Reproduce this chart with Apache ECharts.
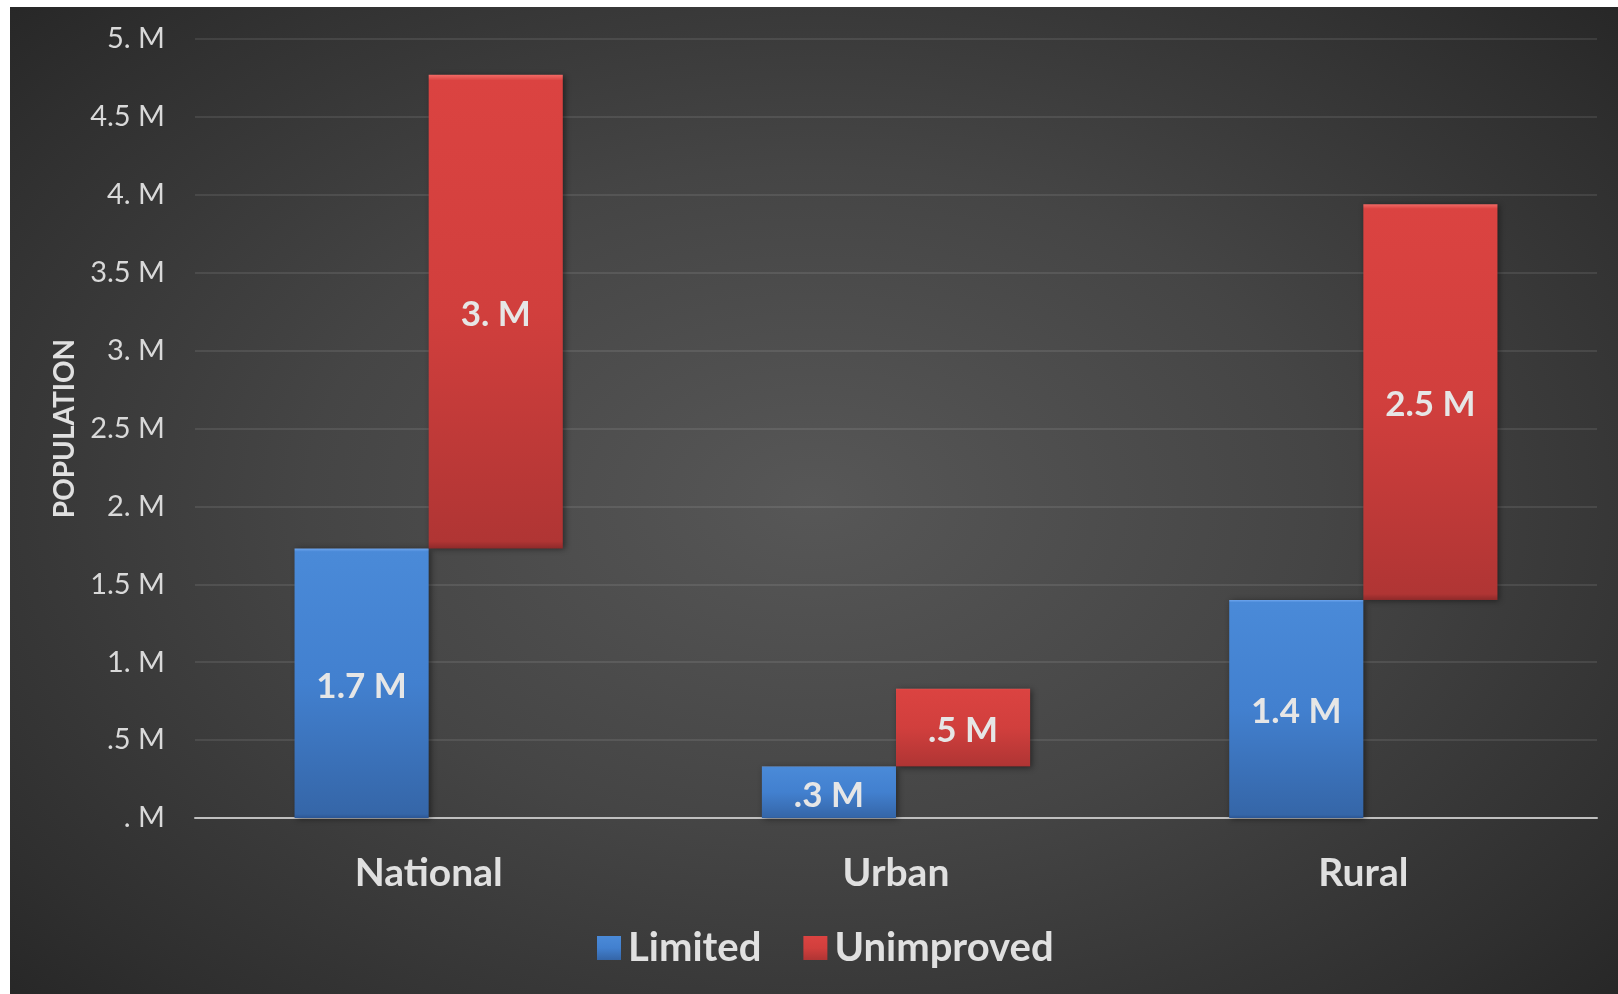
<!DOCTYPE html>
<html>
<head>
<meta charset="utf-8">
<script src="https://cdn.jsdelivr.net/npm/echarts@6/dist/echarts.min.js"></script>
<style>
  html, body { margin: 0; padding: 0; background: #ffffff; width: 1618px; height: 994px; overflow: hidden; }
  #chart {
    position: absolute; left: 10px; top: 7px; width: 1608px; height: 987px;
    background: radial-gradient(ellipse 70% 75% at 50% 50%, #575757 0%, #454545 45%, #2f2f2f 85%, #262626 100%);
  }
</style>
</head>
<body>
<div id="chart"></div>
<script>
const categories = ['National', 'Urban', 'Rural'];
const limited = [1.73, 0.33, 1.40];
const unimproved = [3.04, 0.50, 2.54];
const seriesNames = ['Limited', 'Unimproved'];
const yTicks = [0, 0.5, 1, 1.5, 2, 2.5, 3, 3.5, 4, 4.5, 5];

function fmtM(v) {
  let s = Number(v).toFixed(1);
  if (s.endsWith('0')) s = s.slice(0, -1);
  if (s.startsWith('0')) s = s.slice(1);
  return s + ' M';
}

const FONT = 'Lato, "Open Sans", sans-serif';
const chart = echarts.init(document.getElementById('chart'), null, { renderer: 'canvas' });

const blueGrad = new echarts.graphic.LinearGradient(0, 0, 0, 1, [
  { offset: 0, color: '#6fa6ee' },
  { offset: 0.012, color: '#4a8ad8' },
  { offset: 0.5, color: '#4280cf' },
  { offset: 0.985, color: '#3566a8' },
  { offset: 1, color: '#2c5694' }
]);
const redGrad = new echarts.graphic.LinearGradient(0, 0, 0, 1, [
  { offset: 0, color: '#f26a66' },
  { offset: 0.012, color: '#db4341' },
  { offset: 0.5, color: '#d13f3d' },
  { offset: 0.985, color: '#b03534' },
  { offset: 1, color: '#8e2a2a' }
]);

const labelStyle = {
  show: true,
  position: 'inside',
  color: '#e6e6e6',
  fontFamily: FONT,
  fontWeight: 'bold',
  fontSize: 35,
  offset: [0, 3],
  formatter: p => fmtM(p.value)
};

chart.setOption({
  backgroundColor: 'transparent',
  animation: false,
  grid: { left: 185, right: 21, top: 32, bottom: 176, containLabel: false },
  legend: {
    data: seriesNames,
    left: 582,
    top: 916,
    itemWidth: 24,
    itemHeight: 24,
    itemGap: 42,
    icon: 'rect',
    textStyle: { color: '#e0e0e0', fontFamily: FONT, fontWeight: 'bold', fontSize: 40, padding: [0, 0, 0, 2] }
  },
  xAxis: {
    type: 'category',
    data: categories,
    axisLine: { show: true, lineStyle: { color: '#bfbfbf', width: 2 } },
    axisTick: { show: false },
    axisLabel: { color: '#e0e0e0', fontFamily: FONT, fontWeight: 'bold', fontSize: 39, margin: 36 }
  },
  yAxis: {
    type: 'value',
    min: 0,
    max: 5,
    interval: 0.5,
    name: 'POPULATION',
    nameLocation: 'middle',
    nameGap: 116,
    nameRotate: 90,
    nameTextStyle: { color: '#e0e0e0', fontFamily: FONT, fontWeight: 'bold', fontSize: 28 },
    axisLine: { show: false },
    axisTick: { show: false },
    splitLine: { lineStyle: { color: 'rgba(255,255,255,0.12)', width: 1.5 } },
    axisLabel: { color: '#d9d9d9', fontFamily: FONT, fontSize: 29, margin: 30, formatter: v => fmtM(v) }
  },
  series: [
    {
      name: 'Limited',
      type: 'bar',
      data: limited,
      barWidth: '28.7%',
      barGap: '0%',
      itemStyle: { color: blueGrad, shadowBlur: 6, shadowColor: 'rgba(0,0,0,0.45)', shadowOffsetX: 2, shadowOffsetY: 1 },
      label: labelStyle
    },
    {
      name: 'base',
      type: 'bar',
      stack: 'u',
      data: limited,
      barWidth: '28.7%',
      itemStyle: { color: 'transparent' },
      label: { show: false },
      emphasis: { disabled: true },
      silent: true
    },
    {
      name: 'Unimproved',
      type: 'bar',
      stack: 'u',
      data: unimproved,
      barWidth: '28.7%',
      itemStyle: { color: redGrad, shadowBlur: 6, shadowColor: 'rgba(0,0,0,0.45)', shadowOffsetX: 2, shadowOffsetY: 1 },
      label: labelStyle
    }
  ],
  color: ['#3f7fd0', 'transparent', '#d24040']
});
</script>
</body>
</html>
